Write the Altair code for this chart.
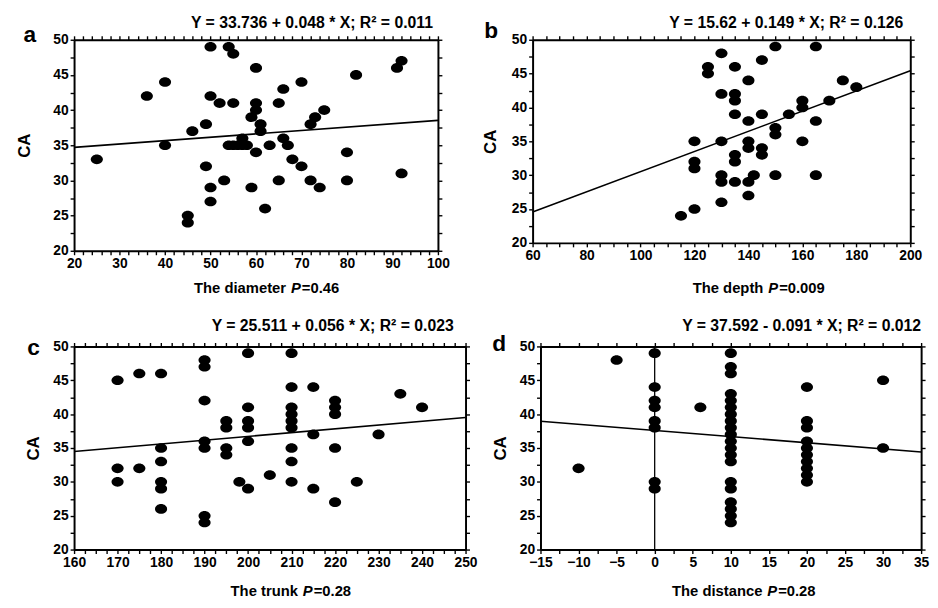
import altair as alt
import pandas as pd

FONT = "Liberation Sans"
ELLIPSE = "M -1 0 A 1 0.8 0 1 0 1 0 A 1 0.8 0 1 0 -1 0 Z"

# ---- panel a: diameter ----
a_x = [25, 36, 40, 40, 45, 45, 46, 49, 49, 50, 50, 50, 50, 52, 53, 54, 55, 55, 54, 55,
       56, 57, 57, 58, 59, 59, 60, 60, 60, 60, 61, 61, 62, 63, 65, 65, 66, 66, 67, 68,
       70, 70, 72, 72, 73, 74, 75, 80, 80, 82, 91, 92, 92]
a_y = [33, 42, 44, 35, 25, 24, 37, 38, 32, 49, 42, 29, 27, 41, 30, 49, 48, 41, 35, 35,
       35, 36, 35, 35, 39, 29, 46, 41, 40, 34, 38, 37, 26, 35, 41, 30, 43, 36, 35, 33,
       44, 32, 30, 38, 39, 29, 40, 34, 30, 45, 46, 47, 31]
a_fit = [33.736, 0.048]
a_eq = "Y = 33.736 + 0.048 * X; R² = 0.011"

# ---- panel b: depth ----
b_x = [115, 120, 120, 120, 120, 125, 125, 130, 130, 130, 130, 130, 130,
       135, 135, 135, 135, 135, 135, 135, 140, 140, 140, 140, 140, 140, 142,
       145, 145, 145, 145, 150, 150, 150, 150, 155, 160, 160, 160, 165, 165, 165,
       170, 175, 180]
b_y = [24, 25, 35, 32, 31, 46, 45, 48, 42, 35, 30, 29, 26,
       46, 42, 41, 39, 33, 32, 29, 44, 38, 35, 34, 29, 27, 30,
       47, 39, 34, 33, 49, 37, 36, 30, 39, 41, 40, 35, 49, 38, 30,
       41, 44, 43]
b_fit = [15.62, 0.149]
b_eq = "Y = 15.62 + 0.149 * X; R² = 0.126"

# ---- panel c: trunk ----
c_x = [170, 170, 170, 175, 175, 180, 180, 180, 180, 180, 180,
       190, 190, 190, 190, 190, 190, 190, 195, 195, 195, 195, 198,
       200, 200, 200, 200, 200, 200, 205, 210, 210, 210, 210, 210, 210, 210, 210, 210,
       215, 215, 215, 220, 220, 220, 220, 220, 225, 230, 235, 240]
c_y = [45, 32, 30, 46, 32, 46, 35, 33, 30, 29, 26,
       48, 47, 42, 36, 35, 25, 24, 39, 38, 35, 34, 30,
       49, 41, 39, 38, 36, 29, 31, 49, 44, 41, 40, 39, 38, 35, 33, 30,
       44, 37, 29, 42, 41, 40, 35, 27, 30, 37, 43, 41]
c_fit = [25.511, 0.056]
c_eq = "Y = 25.511 + 0.056 * X; R² = 0.023"

# ---- panel d: distance ----
d_x = [-10, -5,
       0, 0, 0, 0, 0, 0, 0, 0,
       6,
       10, 10, 10, 10, 10, 10, 10, 10, 10, 10, 10, 10, 10, 10, 10, 10, 10, 10, 10, 10,
       20, 20, 20, 20, 20, 20, 20, 20, 20, 20,
       30, 30]
d_y = [32, 48,
       49, 44, 42, 41, 39, 38, 30, 29,
       41,
       49, 47, 46, 43, 42, 41, 40, 39, 38, 37, 36, 35, 34, 33, 30, 29, 27, 26, 25, 24,
       44, 39, 38, 36, 35, 34, 33, 32, 31, 30,
       45, 35]
d_fit = [37.592, -0.091]
d_eq = "Y = 37.592 - 0.091 * X; R² = 0.012"


def panel(letter, xs, ys, fit, xdom, xmaj, xmin, eq, name, pval, w, h,
          t_dx, t_y, p_x, xt_dy, ca_pad, lx, ly, zero_rule=False):
    pts = pd.DataFrame({"x": xs, "y": ys})
    xsc = alt.Scale(domain=xdom, nice=False, zero=False)
    ysc = alt.Scale(domain=[20, 50], nice=False, zero=False)
    n = int(round((xdom[1] - xdom[0]) / xmin))
    xticks = [xdom[0] + i * xmin for i in range(n + 1)]
    yticks = [20 + i * 2.5 for i in range(13)]
    common = dict(grid=False, domain=True, domainColor="black", domainWidth=2,
                  ticks=True, tickColor="black", tickSize=4, tickWidth=1.4)
    lab = dict(labelFont=FONT, labelFontSize=14, labelFontWeight="bold", labelColor="black",
               labelPadding=2, labelFlush=False, labelOverlap=False)
    ax_b = alt.Axis(orient="bottom", values=xticks, title=None,
                    labelExpr=f"abs(datum.value % {xmaj}) < 1e-9 ? datum.label : ''",
                    **common, **lab)
    ax_l = alt.Axis(orient="left", values=yticks, title="CA",
                    labelExpr="abs(datum.value % 5) < 1e-9 ? datum.label : ''",
                    titleFont=FONT, titleFontSize=17, titleFontWeight="bold",
                    titleColor="black", titlePadding=ca_pad, **common, **lab)
    ax_t = alt.Axis(orient="top", values=xticks, labels=False, title=None, **common)
    ax_r = alt.Axis(orient="right", values=yticks, labels=False, title=None, **common)

    points = alt.Chart(pts).mark_point(
        shape=ELLIPSE, filled=True, size=150, color="black", opacity=1, strokeWidth=0
    ).encode(x=alt.X("x:Q", scale=xsc, axis=ax_b), y=alt.Y("y:Q", scale=ysc, axis=ax_l))

    line = alt.Chart(pd.DataFrame({"x": xdom})).transform_calculate(
        yy=f"{fit[0]} + ({fit[1]}) * datum.x"
    ).mark_line(color="black", strokeWidth=1.6).encode(
        x=alt.X("x:Q", scale=xsc, axis=ax_t), y=alt.Y("yy:Q", scale=ysc, axis=ax_r))

    def txt(t, x, y, size, align, style="normal"):
        return alt.Chart(pd.DataFrame({"t": [t]})).mark_text(
            font=FONT, fontSize=size, fontWeight="bold", fontStyle=style,
            align=align, baseline="middle", color="black"
        ).encode(text="t:N", x=alt.value(x), y=alt.value(y))

    layers = [points, line,
              txt(eq, w + t_dx, t_y, 16, "right"),
              txt(letter, lx, ly, 23, "center"),
              txt(name, p_x - 10, h + xt_dy, 15, "right"),
              txt("P", p_x, h + xt_dy, 15, "center", "italic"),
              txt(pval, p_x + 6, h + xt_dy, 15, "left")]
    if zero_rule:
        rule = alt.Chart(pd.DataFrame({"x": [0]})).mark_rule(
            color="black", strokeWidth=1.3).encode(x=alt.X("x:Q", scale=xsc, axis=None))
        layers.insert(0, rule)

    return alt.layer(*layers).resolve_axis(x="independent", y="independent").properties(
        width=w, height=h)


pa = panel("a", a_x, a_y, a_fit, [20, 100], 10, 2, a_eq, "The diameter", "=0.46",
           369, 214, -5, -17, 225, 38, 20, -45, -5)
pb = panel("b", b_x, b_y, b_fit, [60, 200], 20, 5, b_eq, "The depth", "=0.009",
           383, 206, -7, -17, 244, 46, 12, -42, -9)
pc = panel("c", c_x, c_y, c_fit, [160, 250], 10, 2.5, c_eq, "The trunk", "=0.28",
           397, 206, -12, -21, 237, 42, 10, -41, 2)
pd_ = panel("d", d_x, d_y, d_fit, [-15, 35], 5, 2.5, d_eq, "The distance", "=0.28",
            386, 206, 0, -21, 235, 42, 10, -42, -2, zero_rule=True)

row1 = alt.hconcat(pa, pb, spacing=30)
row2 = alt.hconcat(pc, pd_, spacing=12)
chart = alt.vconcat(row1, row2, spacing=20).properties(
    padding={"left": 6, "top": 2, "right": 0, "bottom": 0}
).configure_view(stroke="black", strokeWidth=2).configure(background="white")

chart.save("out.html", embed_options={"renderer": "svg", "actions": False})
